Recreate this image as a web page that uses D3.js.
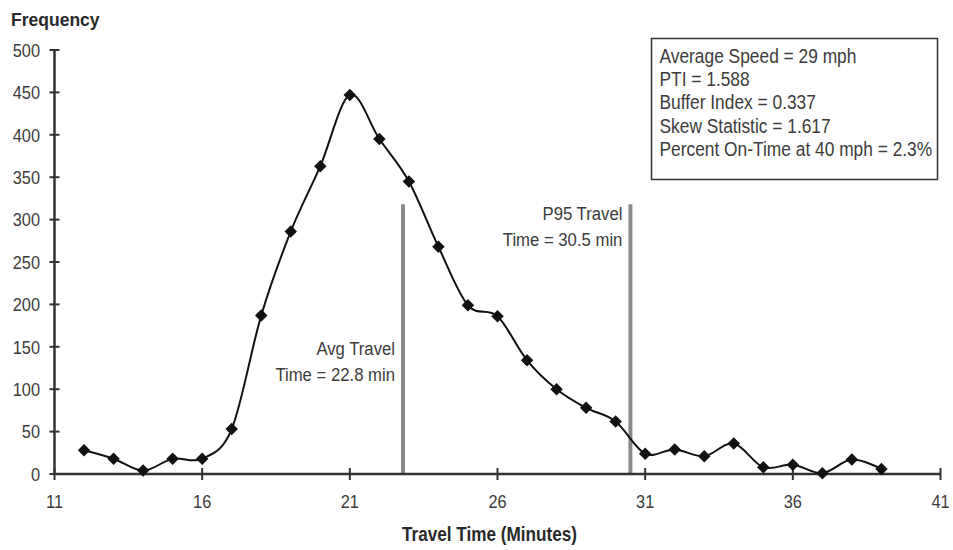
<!DOCTYPE html>
<html><head><meta charset="utf-8">
<script src="https://cdn.jsdelivr.net/npm/d3@7"></script>
<style>
body{margin:0;background:#fff;}
text{font-family:"Liberation Sans",Arial,sans-serif;fill:#3c3c3c;}
.bold{font-weight:bold;fill:#2a2a2a;}
</style></head>
<body><svg id="c" width="953" height="550"></svg>
<script>
const travelTimes = [12,13,14,15,16,17,18,19,20,21,22,23,24,25,26,27,28,29,30,31,32,33,34,35,36,37,38,39];
const frequency   = [28,18,4,18,18,53,187,286,363,447,395,345,268,199,186,134,100,78,62,24,29,21,36,8,11,1,17,6];
const xTicks = [11,16,21,26,31,36,41];
const yTicks = [0,50,100,150,200,250,300,350,400,450,500];
const markerLines = [{x:22.8, top:318, label:["Avg Travel","Time = 22.8 min"]},
                     {x:30.5, top:318, label:["P95 Travel","Time = 30.5 min"]}];
const statsLines = ["Average Speed = 29 mph","PTI = 1.588","Buffer Index = 0.337","Skew Statistic = 1.617","Percent On-Time at 40 mph = 2.3%"];

const svg = d3.select("#c");
const x = d3.scaleLinear().domain([11,41]).range([54.5,940.5]);
const y = d3.scaleLinear().domain([0,500]).range([474,50]);
const axisColor = "#333";
const SX = 0.88;

function txt(g, px, py, s, size, anchor, cls, sx){
  const t = g.append("text").attr("transform",`translate(${px},${py}) scale(${sx||SX},1)`)
    .attr("font-size",size).attr("text-anchor",anchor||"start").text(s);
  if(cls) t.attr("class",cls);
  return t;
}

// reference vertical lines
markerLines.forEach(m=>{
  svg.append("line").attr("x1",x(m.x)).attr("x2",x(m.x)).attr("y1",y(0)).attr("y2",y(m.top))
    .attr("stroke","#8a8a8a").attr("stroke-width",4);
});

// y axis
const gy = svg.append("g");
gy.append("line").attr("x1",x(11)).attr("x2",x(11)).attr("y1",y(0)).attr("y2",y(500)).attr("stroke",axisColor).attr("stroke-width",2.5);
yTicks.forEach(t=>{
  gy.append("line").attr("x1",x(11)-5).attr("x2",x(11)+5).attr("y1",y(t)).attr("y2",y(t)).attr("stroke",axisColor).attr("stroke-width",2);
  txt(gy, 40, y(t)+6.7, t, 18.6, "end");
});
// x axis
const gx = svg.append("g");
gx.append("line").attr("x1",x(11)).attr("x2",x(41)).attr("y1",y(0)).attr("y2",y(0)).attr("stroke",axisColor).attr("stroke-width",2.5);
xTicks.forEach(t=>{
  gx.append("line").attr("x1",x(t)).attr("x2",x(t)).attr("y1",y(0)-6).attr("y2",y(0)+6).attr("stroke",axisColor).attr("stroke-width",2);
  txt(gx, x(t), 508, t, 18.6, "middle");
});

// data line
const pts = travelTimes.map((t,i)=>[t,frequency[i]]);
svg.append("path").datum(pts)
  .attr("d", d3.line().x(d=>x(d[0])).y(d=>y(d[1])).curve(d3.curveCatmullRom.alpha(0)))
  .attr("fill","none").attr("stroke","#111").attr("stroke-width",2);
svg.selectAll(".pt").data(pts).enter().append("path")
  .attr("d", d3.symbol().type(d3.symbolSquare).size(78))
  .attr("transform", d=>`translate(${x(d[0])},${y(d[1])}) rotate(45)`)
  .attr("fill","#111");

// annotations
markerLines.forEach((m,i)=>{
  const ty = i===0 ? 355 : 220;
  m.label.forEach((s,j)=>{
    txt(svg, x(m.x)-8, ty+j*26, s, 19, "end");
  });
});

// stats box
svg.append("rect").attr("x",651.5).attr("y",38.5).attr("width",286).attr("height",141)
  .attr("fill","#fff").attr("stroke","#333").attr("stroke-width",1.5);
statsLines.forEach((s,i)=>{
  txt(svg, 659.5, 63+i*23.2, s, 20.3, "start", null, 0.855);
});

// titles
txt(svg, 11, 26, "Frequency", 17.7, "start", "bold", 0.99);
txt(svg, 489.5, 541, "Travel Time (Minutes)", 19.5, "middle", "bold", 0.88);
</script></body></html>
